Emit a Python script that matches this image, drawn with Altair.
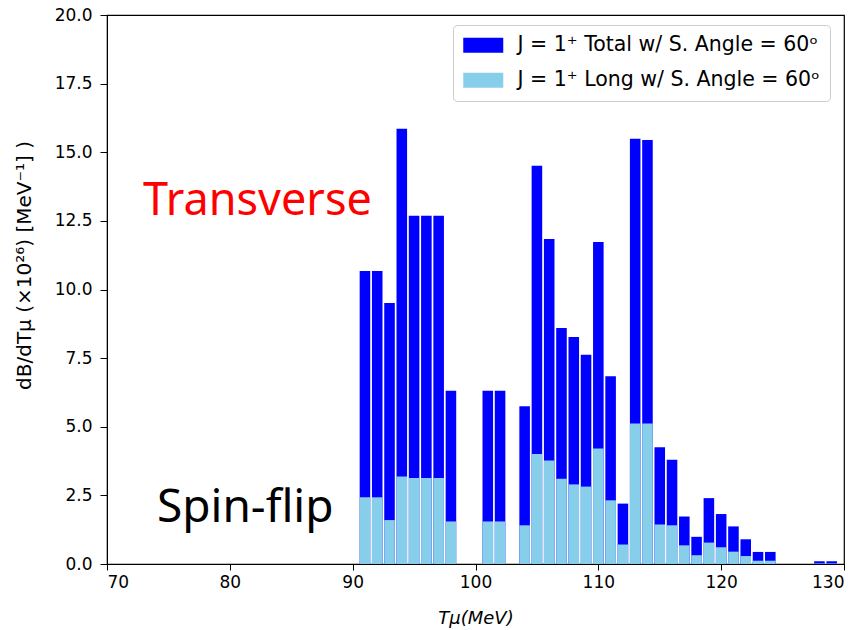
import altair as alt
import pandas as pd

# T_mu bin centres (MeV)
energy = [91, 92, 93, 94, 95, 96, 97, 98, 101, 102,
          104, 105, 106, 107, 108, 109, 110, 111, 112, 113, 114,
          115, 116, 117, 118, 119, 120, 121, 122, 123, 124, 128, 129]
total = [10.67, 10.67, 9.51, 15.86, 12.69, 12.69, 12.69, 6.31, 6.31, 6.31,
         5.75, 14.51, 11.84, 8.60, 8.27, 7.62, 11.73, 6.84, 2.20, 15.49, 15.45,
         4.25, 3.80, 1.73, 0.99, 2.40, 1.82, 1.37, 0.90, 0.44, 0.44, 0.10, 0.10]
longit = [2.43, 2.43, 1.60, 3.19, 3.13, 3.13, 3.13, 1.55, 1.55, 1.55,
          1.41, 4.01, 3.77, 3.11, 2.90, 2.82, 4.21, 2.32, 0.71, 5.12, 5.12,
          1.44, 1.41, 0.68, 0.32, 0.78, 0.61, 0.45, 0.29, 0.12, 0.12, 0.02, 0.02]

lab_total = "J = 1⁺ Total w/ S. Angle = 60ᵒ"
lab_long = "J = 1⁺ Long w/ S. Angle = 60ᵒ"
series_names = [lab_total, lab_long]
series_colors = ["#0000ff", "#87ceeb"]

x_ticks = [70, 80, 90, 100, 110, 120, 130]
y_ticks = [0, 2.5, 5, 7.5, 10, 12.5, 15, 17.5, 20]

df_total = pd.DataFrame({"T": energy, "v": total, "s": lab_total})
df_long = pd.DataFrame({"T": energy, "v": longit, "s": lab_long})

xscale = alt.Scale(domain=[70, 130], nice=False, zero=False, padding=0)
yscale = alt.Scale(domain=[0, 20], nice=False, padding=0)

color = alt.Color(
    "s:N",
    scale=alt.Scale(domain=series_names, range=series_colors),
    legend=alt.Legend(
        title=None, orient="none", legendX=346, legendY=10,
        padding=10, fillColor="white", strokeColor="#cccccc", cornerRadius=4,
        labelFont="DejaVu Sans", labelFontSize=20.5, labelColor="black",
        symbolType="M-1,-0.75L3,-0.75L3,0.75L-1,0.75Z", symbolSize=400,
        symbolStrokeWidth=0, symbolOpacity=1, labelOffset=34, rowPadding=14,
        labelLimit=400,
    ),
)

xaxis = alt.Axis(values=x_ticks, title="Tμ(MeV)", grid=False, labelFontSize=17,
                 labelFont="DejaVu Sans", labelColor="black", tickColor="black",
                 domainColor="black", tickSize=6, labelPadding=4, titleFontSize=18,
                 titleFont="DejaVu Sans", titleFontStyle="italic", titleFontWeight="normal",
                 titleColor="black", titleY=59, titleBaseline="alphabetic", format="d")
yaxis = alt.Axis(values=y_ticks, title="dB/dTμ (×10²⁶) [MeV⁻¹] )", grid=False,
                 labelFontSize=17, labelFont="DejaVu Sans", labelColor="black",
                 tickColor="black", domainColor="black", tickSize=7, labelPadding=8,
                 format=".1f", titleFontSize=20, titleFont="DejaVu Sans",
                 titleFontWeight="normal", titleColor="black", titleX=-83, titleY=250,
                 titleBaseline="middle", titleAngle=270)

def bars(df):
    return alt.Chart(df).transform_calculate(
        x0="datum.T - 0.43", x1="datum.T + 0.43"
    ).mark_bar(strokeWidth=0, opacity=1).encode(
        x=alt.X("x0:Q", scale=xscale, axis=xaxis),
        x2="x1:Q",
        y=alt.Y("v:Q", scale=yscale, axis=yaxis),
        y2=alt.datum(0),
        color=color,
    )

ann = pd.DataFrame({"t": ["Transverse", "Spin-flip"], "c": ["red", "black"]})
trans = alt.Chart(ann[ann.t == "Transverse"]).mark_text(
    font="Noto Sans", fontSize=45, align="left", baseline="alphabetic", color="red"
).encode(x=alt.value(36), y=alt.value(200), text="t:N")
spin = alt.Chart(ann[ann.t == "Spin-flip"]).mark_text(
    font="Noto Sans", fontSize=46, align="left", baseline="alphabetic", color="black"
).encode(x=alt.value(50), y=alt.value(507), text="t:N")

chart = alt.layer(bars(df_total), bars(df_long), trans, spin).properties(
    width=737, height=549,
    autosize=alt.AutoSizeParams(type="none"),
    padding={"left": 107, "top": 15, "right": 23, "bottom": 66},
    background="white",
).configure_view(stroke="black", strokeWidth=1.2)

chart.save("out.html", embed_options={"renderer": "svg", "actions": False})
